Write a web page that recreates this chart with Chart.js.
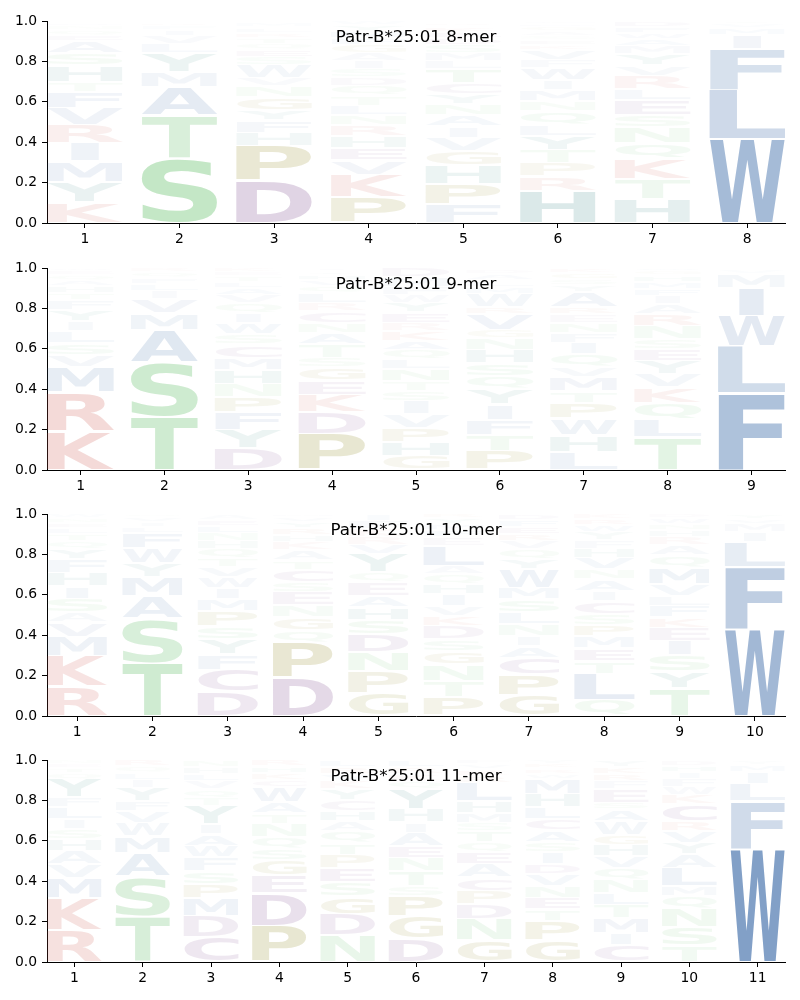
<!DOCTYPE html>
<html>
<head>
<meta charset="utf-8">
<script src="https://cdn.jsdelivr.net/npm/chart.js@4.4.1/dist/chart.umd.min.js"></script>
<style>
html,body{margin:0;padding:0;background:#fff;width:800px;height:1000px;overflow:hidden;}
.panel{position:absolute;left:0;width:800px;height:246px;}
</style>
</head>
<body>
<div class="panel" style="top:0px"><canvas id="c8"></canvas></div>
<div class="panel" style="top:247px"><canvas id="c9"></canvas></div>
<div class="panel" style="top:493px"><canvas id="c10"></canvas></div>
<div class="panel" style="top:739px"><canvas id="c11"></canvas></div>
<script>
// ---------- DATA ----------
const allele = "Patr-B*25:01";
const yTicks = [0, 0.2, 0.4, 0.6, 0.8, 1.0];

// letters per position, bottom -> top, with their frequencies
const mer8Letters = ["KYMIRVFTHSAEQNDG","STAMYLVIFRQ","DPHFYGNVWSEQTRLMI","PKVEHRNLTQDSIAGFMYW",
  "FPHGVIANYCTLMSDEKRW","HRPTYLQNMIWFVKESAGDC","HTKQNSELRVYMAWFD","WLFIMVY"];
const mer8Heights = [
  [.105,.1,.1,.09,.09,.085,.08,.05,.08,.06,.06,.03,.025,.02,.015,.01],
  [.32,.215,.14,.075,.09,.045,.04,.03,.02,.015,.01],
  [.213,.17,.065,.06,.05,.065,.055,.04,.065,.04,.035,.03,.03,.025,.025,.02,.012],
  [.13,.11,.07,.06,.06,.055,.05,.045,.05,.05,.04,.04,.04,.04,.04,.035,.035,.03,.02],
  [.095,.1,.09,.072,.066,.055,.056,.055,.05,.054,.07,.04,.04,.04,.035,.03,.025,.015,.012],
  [.16,.07,.065,.068,.07,.055,.065,.05,.055,.05,.06,.04,.05,.025,.025,.02,.022,.02,.015,.015],
  [.12,.1,.1,.075,.08,.06,.075,.055,.065,.05,.055,.04,.035,.03,.03,.03],
  [.415,.245,.2,.07,.035,.02,.015]
];

const mer9Letters = ["KRMVSLIYFTHAQEW","TSAMVILFQR","DYFPNHMCSWIQVALTEK","PDKEGSTANCRLQVHYI",
  "GHPVISTNLQAKREYWFMD","PTFIYQSHNGVRWMLADE","LHWPTMVQIFNERAYSGK","TLQKVYESNRAIFMHGW","FLWIMVY"];
const mer9Heights = [
  [.195,.19,.125,.06,.058,.058,.05,.055,.05,.033,.035,.03,.025,.02,.016],
  [.265,.27,.16,.083,.07,.04,.035,.03,.025,.02],
  [.11,.09,.085,.075,.068,.068,.06,.066,.05,.057,.047,.05,.04,.035,.03,.03,.02,.019],
  [.18,.105,.088,.07,.066,.047,.065,.058,.05,.058,.04,.05,.035,.03,.025,.018,.015],
  [.07,.07,.07,.065,.065,.05,.05,.06,.05,.045,.045,.05,.04,.05,.045,.04,.04,.05,.045],
  [.095,.08,.075,.075,.075,.063,.066,.066,.058,.04,.08,.035,.065,.035,.03,.03,.02,.012],
  [.09,.083,.083,.075,.058,.07,.05,.063,.058,.05,.05,.04,.035,.075,.035,.03,.03,.025],
  [.163,.088,.083,.075,.065,.065,.058,.05,.066,.06,.05,.04,.035,.035,.03,.02,.017],
  [.38,.233,.15,.14,.066,.02,.011]
];

const mer10Letters = ["RKMVASIHFYQTLENW","TSAMYWFLIVQ","DCFYSPMIWVTQHNLEA","DPQGNESCTAKHRYVM",
  "GPNDSHAEQYVRKFI","PTNGSDKVIHQALEFMYR","GPCAINLSMWYQVREFD","QLTEMPSCIANVHFYWRK",
  "TYSIEKFLVMQARHNWD","WFLIMVY"];
const mer10Heights = [
  [.148,.148,.097,.07,.05,.068,.063,.066,.066,.05,.04,.035,.03,.025,.024,.02],
  [.265,.22,.11,.095,.066,.075,.075,.03,.025,.025,.014],
  [.12,.11,.075,.075,.066,.075,.058,.053,.055,.05,.045,.045,.04,.04,.035,.03,.028],
  [.19,.175,.06,.066,.058,.066,.05,.06,.045,.05,.04,.035,.035,.03,.025,.015],
  [.113,.108,.096,.088,.07,.063,.058,.066,.05,.09,.045,.04,.04,.04,.033],
  [.093,.08,.083,.066,.058,.066,.05,.05,.058,.05,.05,.04,.1,.04,.035,.03,.03,.021],
  [.105,.1,.083,.058,.05,.058,.058,.066,.058,.09,.05,.05,.04,.035,.035,.035,.029],
  [.08,.13,.063,.063,.058,.058,.053,.063,.05,.058,.05,.058,.045,.04,.04,.035,.03,.026],
  [.138,.083,.08,.071,.066,.05,.058,.05,.058,.083,.058,.05,.04,.035,.03,.03,.02],
  [.43,.307,.125,.05,.04,.025,.023]
];

const mer11Letters = ["RKMVAHSILFYQTEN","TSAMWVFYILQR","CDMPSFWAIYTQVLHN","PDEGSQNTAWCKHR",
  "NDGSEPTQAHCYKVRL","DGPSTNEAIHYQKRL","GNDPCAEQTSMHLRKVF","GPTENVDISACLHMWRKY",
  "CIMTLNQVHGWASEFRKY","TSNQMLAYVRCKWFIHD","WFLIMY"];
const mer11Heights = [
  [.16,.157,.1,.066,.066,.058,.05,.05,.058,.05,.09,.03,.025,.02,.02],
  [.225,.2,.115,.083,.066,.058,.05,.066,.04,.035,.03,.032],
  [.125,.103,.088,.07,.066,.066,.058,.058,.05,.09,.04,.04,.04,.035,.035,.036],
  [.18,.16,.088,.075,.058,.058,.066,.05,.058,.075,.035,.035,.03,.032],
  [.133,.105,.086,.071,.07,.066,.058,.058,.05,.05,.055,.055,.04,.035,.035,.033],
  [.116,.11,.1,.05,.075,.066,.058,.066,.05,.066,.1,.04,.035,.035,.033],
  [.108,.103,.075,.066,.066,.066,.058,.05,.058,.04,.05,.058,.09,.035,.03,.025,.022],
  [.108,.095,.058,.058,.058,.058,.05,.058,.05,.058,.058,.058,.066,.075,.025,.025,.022,.02],
  [.083,.063,.071,.066,.058,.066,.058,.058,.058,.05,.066,.058,.033,.066,.04,.035,.035,.036],
  [.083,.088,.09,.066,.05,.09,.066,.058,.058,.05,.083,.045,.04,.04,.035,.03,.028],
  [.56,.235,.088,.058,.035,.02]
];

// ---------- STYLE ----------
const groupColors = {
  hydrophobic: [78, 120, 176],
  polar:       [98, 190, 104],
  basic:       [204, 82, 72],
  acidic:      [127, 74, 143],
  special:     [140, 132, 24],
  aromatic:    [48, 130, 127]
};
const groupOf = {
  A:'hydrophobic',V:'hydrophobic',L:'hydrophobic',I:'hydrophobic',M:'hydrophobic',F:'hydrophobic',W:'hydrophobic',
  S:'polar',T:'polar',N:'polar',Q:'polar',
  K:'basic',R:'basic',
  D:'acidic',E:'acidic',C:'acidic',
  P:'special',G:'special',
  H:'aromatic',Y:'aromatic'
};
function letterFill(ch, h) {
  const c = groupColors[groupOf[ch]] || [120,120,120];
  const a = Math.min(1, 1.35 * Math.pow(h, 1.12));
  return `rgba(${c[0]},${c[1]},${c[2]},${a})`;
}

const logoPlugin = {
  id: 'logoLetters',
  afterDatasetsDraw(chart) {
    const ctx = chart.ctx, area = chart.chartArea;
    const vpad = 1;
    ctx.save();
    ctx.beginPath();
    ctx.rect(area.left, area.top - 2, area.right - area.left, area.bottom - area.top + 2);
    ctx.clip();
    ctx.font = 'bold 100px "DejaVu Sans"';
    ctx.textAlign = 'left';
    ctx.textBaseline = 'alphabetic';
    const mE = ctx.measureText('E');
    const widthE = mE.actualBoundingBoxLeft + mE.actualBoundingBoxRight;
    chart.data.datasets.forEach((ds, di) => {
      const meta = chart.getDatasetMeta(di);
      meta.data.forEach((el, i) => {
        const ch = ds.letters[i];
        const v = ds.data[i].y;
        if (!ch || v == null || v <= 0) return;
        const p = el.getProps(['x', 'y', 'base', 'width'], true);
        const top = Math.min(p.y, p.base) + vpad;
        const bot = Math.max(p.y, p.base) - vpad;
        if (bot - top <= 0.3) return;
        const m = ctx.measureText(ch);
        const gw = m.actualBoundingBoxLeft + m.actualBoundingBoxRight;
        const gh = m.actualBoundingBoxAscent + m.actualBoundingBoxDescent;
        // do not stretch narrow glyphs more than 'E'
        const sx = Math.min(p.width / gw, p.width / widthE);
        const sy = (bot - top) / gh;
        const drawW = gw * sx;
        ctx.save();
        ctx.translate(p.x - drawW / 2, top);
        ctx.scale(sx, sy);
        ctx.fillStyle = letterFill(ch, v);
        ctx.fillText(ch, m.actualBoundingBoxLeft, m.actualBoundingBoxAscent);
        ctx.restore();
      });
    });
    ctx.restore();
  }
};

const titlePlugin = {
  id: 'innerTitle',
  afterDraw(chart, args, opts) {
    const ctx = chart.ctx, area = chart.chartArea;
    ctx.save();
    ctx.font = '16.7px "DejaVu Sans"';
    ctx.fillStyle = '#000';
    ctx.textAlign = 'center';
    ctx.textBaseline = 'alphabetic';
    ctx.fillText(opts.text, (area.left + area.right) / 2, area.top + 21);
    ctx.restore();
  }
};

function makeLogo(id, len, letters, heights) {
  const positions = letters.map((_, i) => i + 1);
  const maxRank = Math.max(...letters.map(s => s.length));
  const datasets = [];
  for (let r = 0; r < maxRank; r++) {
    datasets.push({
      data: positions.map((x, i) => ({ x: x, y: r < letters[i].length ? heights[i][r] : null })),
      letters: letters.map(s => s[r] || ''),
      backgroundColor: 'rgba(0,0,0,0)',
      borderWidth: 0,
      barPercentage: 0.8,
      categoryPercentage: 1.0
    });
  }
  const tickFont = { family: 'DejaVu Sans', size: 13.9 };
  new Chart(document.getElementById(id), {
    type: 'bar',
    data: { datasets },
    options: {
      responsive: true,
      maintainAspectRatio: false,
      animation: false,
      devicePixelRatio: 1,
      layout: { padding: { left: 0, right: 15, top: 21, bottom: 0 } },
      plugins: {
        legend: { display: false },
        tooltip: { enabled: false },
        innerTitle: { text: allele + ' ' + len + '-mer' }
      },
      scales: {
        x: {
          type: 'linear', stacked: true, offset: false,
          min: 0.6, max: len + 0.4,
          grid: { display: true, offset: false, drawOnChartArea: false, drawTicks: true, tickLength: 5, tickColor: '#000', tickWidth: 1 },
          border: { display: true, color: '#000', width: 1 },
          ticks: { color: '#000', font: tickFont, padding: 3, autoSkip: false, maxRotation: 0,
                   callback: v => String(v) },
          afterBuildTicks: s => { s.ticks = positions.map(v => ({ value: v })); },
          afterFit: s => { s.height = 23; }
        },
        y: {
          stacked: true, min: 0, max: 1,
          grid: { display: true, offset: false, drawOnChartArea: false, drawTicks: true, tickLength: 5, tickColor: '#000', tickWidth: 1 },
          border: { display: true, color: '#000', width: 1 },
          ticks: { color: '#000', font: tickFont, padding: 5, callback: v => Number(v).toFixed(1) },
          afterBuildTicks: s => { s.ticks = yTicks.map(v => ({ value: v })); },
          afterFit: s => { s.width = 47; }
        }
      }
    },
    plugins: [logoPlugin, titlePlugin]
  });
}

makeLogo('c8', 8, mer8Letters, mer8Heights);
makeLogo('c9', 9, mer9Letters, mer9Heights);
makeLogo('c10', 10, mer10Letters, mer10Heights);
makeLogo('c11', 11, mer11Letters, mer11Heights);
</script>
</body>
</html>
